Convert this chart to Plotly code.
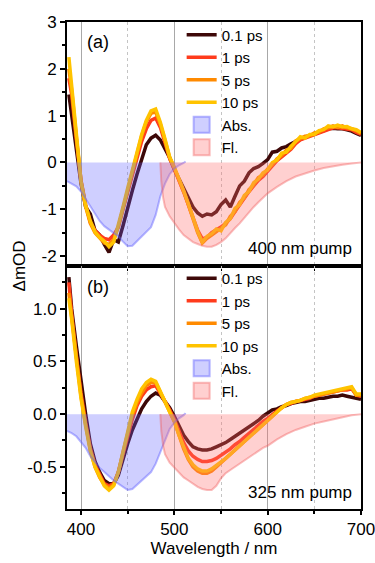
import plotly.graph_objects as go
from plotly.subplots import make_subplots

# ---------------- data ----------------
wl = [387] + list(range(390, 701, 5))

# panel (a): 400 nm pump
a_01ps = [1.45, 1.0, 0.3, -0.45, -0.95, -1.1, -1.45, -1.55,
          -1.75, -1.92, -1.65, -1.7, -1.35, -0.95, -0.6, -0.25,
          0.08, 0.38, 0.52, 0.58, 0.48, 0.3, 0.1, -0.15,
          -0.35, -0.58, -0.78, -0.95, -1.08, -1.15, -1.1, -1.12,
          -1.05, -0.9, -0.8, -0.95, -0.72, -0.5, -0.4, -0.22,
          -0.13, -0.09, -0.02, 0.06, 0.22, 0.24, 0.31, 0.34,
          0.4, 0.45, 0.5, 0.54, 0.57, 0.6, 0.64, 0.68,
          0.72, 0.73, 0.72, 0.72, 0.7, 0.67, 0.62, 0.58]
a_1ps = [1.8, 1.45, 0.5, -0.38, -0.9, -1.28, -1.45, -1.55,
         -1.62, -1.65, -1.55, -1.38, -1.0, -0.62, -0.25, 0.12,
         0.45, 0.72, 0.9, 0.95, 0.75, 0.42, 0.08, -0.14,
         -0.37, -0.63, -0.9, -1.2, -1.45, -1.63, -1.6, -1.5,
         -1.45, -1.38, -1.3, -1.2, -1.05, -0.9, -0.78, -0.62,
         -0.5, -0.38, -0.3, -0.18, -0.08, 0.04, 0.12, 0.2,
         0.28, 0.4, 0.48, 0.52, 0.56, 0.6, 0.64, 0.68,
         0.72, 0.74, 0.74, 0.73, 0.72, 0.7, 0.64, 0.6]
a_5ps = [2.0, 1.55, 0.55, -0.4, -0.95, -1.3, -1.5, -1.62,
         -1.72, -1.75, -1.65, -1.38, -0.98, -0.58, -0.18, 0.2,
         0.57, 0.87, 1.05, 1.08, 0.82, 0.47, 0.1, -0.12,
         -0.35, -0.62, -0.9, -1.22, -1.5, -1.72, -1.62, -1.55,
         -1.48, -1.4, -1.33, -1.15, -1.05, -0.85, -0.76, -0.58,
         -0.48, -0.32, -0.27, -0.14, -0.05, 0.08, 0.15, 0.26,
         0.3, 0.46, 0.5, 0.56, 0.57, 0.63, 0.65, 0.72,
         0.74, 0.78, 0.75, 0.78, 0.74, 0.72, 0.68, 0.62]
a_10ps = [2.25, 1.65, 0.6, -0.4, -0.92, -1.25, -1.48, -1.6,
          -1.68, -1.8, -1.7, -1.35, -0.95, -0.55, -0.15, 0.22,
          0.6, 0.9, 1.1, 1.14, 0.86, 0.5, 0.12, -0.1,
          -0.33, -0.6, -0.88, -1.2, -1.47, -1.7, -1.58, -1.52,
          -1.42, -1.46, -1.28, -1.2, -0.98, -0.9, -0.7, -0.62,
          -0.43, -0.36, -0.22, -0.16, 0.0, 0.05, 0.2, 0.22,
          0.35, 0.44, 0.55, 0.52, 0.6, 0.6, 0.68, 0.7,
          0.78, 0.76, 0.8, 0.76, 0.77, 0.72, 0.7, 0.64]

# panel (b): 325 nm pump
b_01ps = [1.3, 1.0, 0.65, 0.3, 0.0, -0.28, -0.45, -0.55,
          -0.63, -0.66, -0.66, -0.58, -0.42, -0.28, -0.15, -0.05,
          0.05, 0.12, 0.17, 0.2, 0.18, 0.12, 0.06, -0.02,
          -0.12, -0.2, -0.26, -0.31, -0.33, -0.34, -0.34, -0.33,
          -0.31, -0.29, -0.27, -0.24, -0.21, -0.18, -0.15, -0.12,
          -0.09, -0.06, -0.02, 0.01, 0.04, 0.05, 0.07, 0.08,
          0.1, 0.11, 0.12, 0.12, 0.13, 0.14, 0.15, 0.15,
          0.16, 0.17, 0.17, 0.18, 0.17, 0.16, 0.15, 0.14]
b_1ps = [1.25, 0.95, 0.55, 0.2, -0.08, -0.32, -0.48, -0.58,
         -0.66, -0.68, -0.66, -0.55, -0.38, -0.2, -0.05, 0.08,
         0.17, 0.23, 0.26, 0.27, 0.2, 0.12, 0.04, -0.05,
         -0.16, -0.27, -0.35, -0.4, -0.43, -0.45, -0.45, -0.44,
         -0.42, -0.39, -0.36, -0.33, -0.29, -0.26, -0.22, -0.18,
         -0.15, -0.11, -0.07, -0.04, 0.0, 0.03, 0.06, 0.09,
         0.1, 0.12, 0.13, 0.14, 0.15, 0.17, 0.18, 0.19,
         0.2, 0.21, 0.22, 0.23, 0.23, 0.24, 0.18, 0.17]
b_5ps = [1.15, 0.92, 0.52, 0.17, -0.1, -0.34, -0.5, -0.6,
         -0.67, -0.7, -0.67, -0.55, -0.36, -0.17, -0.01, 0.11,
         0.2, 0.27, 0.3, 0.3, 0.21, 0.12, 0.03, -0.07,
         -0.2, -0.33, -0.43, -0.5, -0.54, -0.56, -0.56, -0.54,
         -0.5, -0.46, -0.42, -0.38, -0.34, -0.3, -0.25, -0.21,
         -0.17, -0.13, -0.09, -0.05, -0.01, 0.03, 0.06, 0.09,
         0.11, 0.12, 0.13, 0.15, 0.16, 0.17, 0.18, 0.19,
         0.2, 0.21, 0.22, 0.23, 0.24, 0.25, 0.18, 0.18]
b_10ps = [1.1, 0.9, 0.5, 0.15, -0.12, -0.35, -0.5, -0.6,
          -0.68, -0.72, -0.68, -0.55, -0.35, -0.15, 0.02, 0.14,
          0.24, 0.3, 0.33, 0.31, 0.22, 0.12, 0.02, -0.07,
          -0.2, -0.32, -0.42, -0.48, -0.52, -0.54, -0.54, -0.52,
          -0.49, -0.46, -0.42, -0.38, -0.34, -0.3, -0.25, -0.21,
          -0.17, -0.13, -0.09, -0.05, -0.01, 0.03, 0.06, 0.09,
          0.11, 0.12, 0.13, 0.15, 0.16, 0.18, 0.19, 0.2,
          0.21, 0.22, 0.23, 0.24, 0.25, 0.26, 0.19, 0.19]

# steady-state absorption (negative) and fluorescence (negative)
abs_wl = [385, 390, 395, 400, 405, 410, 415, 420, 425, 430, 435, 440, 445, 450,
          455, 460, 465, 470, 475, 480, 485, 490, 495, 500, 505, 510, 512]
a_abs = [-0.40, -0.45, -0.51, -0.62, -0.78, -0.95, -1.1, -1.25, -1.36, -1.43,
         -1.5, -1.58, -1.69, -1.79, -1.78, -1.68, -1.6, -1.5, -1.38, -1.12,
         -0.72, -0.45, -0.25, -0.13, -0.06, -0.01, 0.02]
b_abs = [-0.16, -0.18, -0.21, -0.26, -0.32, -0.4, -0.46, -0.51, -0.55, -0.59,
         -0.63, -0.66, -0.69, -0.72, -0.71, -0.67, -0.63, -0.59, -0.55, -0.47,
         -0.36, -0.24, -0.14, -0.08, -0.04, -0.01, 0.01]

fl_wl = [485, 486, 488, 490, 495, 500, 505, 510, 515, 520, 525, 530, 535, 540,
         545, 550, 555, 560, 565, 570, 575, 580, 585, 590, 595, 600, 610, 620,
         630, 640, 650, 660, 670, 680, 690, 700]
a_fl = [0, -0.4, -0.75, -0.95, -1.15, -1.3, -1.43, -1.55, -1.63, -1.7, -1.74,
        -1.78, -1.8, -1.8, -1.76, -1.7, -1.62, -1.5, -1.4, -1.3, -1.18, -1.05,
        -0.95, -0.85, -0.75, -0.66, -0.52, -0.4, -0.3, -0.23, -0.17, -0.12,
        -0.08, -0.05, -0.02, 0.0]
b_fl = [0, -0.16, -0.3, -0.38, -0.46, -0.51, -0.55, -0.6, -0.63, -0.66, -0.69,
        -0.71, -0.72, -0.72, -0.68, -0.61, -0.56, -0.53, -0.5, -0.47, -0.44,
        -0.41, -0.38, -0.35, -0.32, -0.3, -0.24, -0.19, -0.15, -0.12, -0.09,
        -0.07, -0.05, -0.03, -0.01, 0.0]

series_names = ["0.1 ps", "1 ps", "5 ps", "10 ps"]
x_tickvals = [400, 500, 600, 700]
a_tickvals = [-2, -1, 0, 1, 2, 3]
a_ticktext = ["-2", "-1", "0", "1", "2", "3"]
b_tickvals = [-0.5, 0.0, 0.5, 1.0]
b_ticktext = ["-0.5", "0.0", "0.5", "1.0"]

# ---------------- style ----------------
FONT = "Arial, Liberation Sans, sans-serif"
colors = ["#3d0808", "#ff3b1c", "#ff8a00", "#ffc300"]
ABS_FILL = "rgba(95,95,255,0.30)"
ABS_LINE = "rgba(95,95,255,0.45)"
FL_FILL = "rgba(255,110,110,0.32)"
FL_LINE = "rgba(240,90,90,0.40)"

fig = make_subplots(rows=2, cols=1, shared_xaxes=True, vertical_spacing=0)

panels = [
    (1, [a_01ps, a_1ps, a_5ps, a_10ps], a_abs, a_fl, "legend"),
    (2, [b_01ps, b_1ps, b_5ps, b_10ps], b_abs, b_fl, "legend2"),
]
for row, curves, absv, flv, leg in panels:
    for name, ys, c in zip(series_names, curves, colors):
        fig.add_trace(go.Scatter(x=wl, y=ys, mode="lines", name=name,
                                 line=dict(color=c, width=3.5),
                                 legend=leg), row=row, col=1)
    fig.add_trace(go.Scatter(x=abs_wl, y=absv, mode="lines", fill="tozeroy",
                             fillcolor=ABS_FILL, line=dict(color=ABS_LINE, width=2),
                             showlegend=False), row=row, col=1)
    fig.add_trace(go.Scatter(x=fl_wl, y=flv, mode="lines", fill="tozeroy",
                             fillcolor=FL_FILL, line=dict(color=FL_LINE, width=2),
                             showlegend=False), row=row, col=1)
    for name, fc, lc in [("Abs.", ABS_FILL, ABS_LINE), ("Fl.", FL_FILL, FL_LINE)]:
        fig.add_trace(go.Scatter(x=[None], y=[None], mode="markers", name=name,
                                 marker=dict(symbol="square", size=16, color=fc,
                                             line=dict(color=lc, width=2)),
                                 legend=leg), row=row, col=1)

axis_common = dict(showline=True, mirror=True, linewidth=2, linecolor="black",
                   automargin=False,
                   tickfont=dict(family=FONT, size=17, color="black"))
xcommon = dict(range=[385, 700], tickmode="array", tickvals=x_tickvals,
               showgrid=True, gridcolor="#a8a8a8", gridwidth=1, zeroline=False,
               ticklabeloverflow="allow",
               minor=dict(tickmode="linear", tick0=400, dtick=50, showgrid=True,
                          gridcolor="#c4c4c4", griddash="dot", gridwidth=1,
                          ticks="outside", ticklen=3, tickcolor="black"),
               **axis_common)
fig.update_xaxes(row=1, col=1, showticklabels=False, ticks="", **xcommon)
fig.update_xaxes(row=2, col=1, ticks="outside", ticklen=4, tickwidth=1.5,
                 tickcolor="black",
                 title=dict(text="Wavelength / nm", font=dict(family=FONT, size=17, color="black"),
                            standoff=0),
                 **xcommon)
fig.update_yaxes(row=1, col=1, range=[-2.2, 3.0], tickmode="array",
                 tickvals=a_tickvals, ticktext=a_ticktext,
                 ticks="outside", ticklen=5, tickwidth=1.5, tickcolor="black",
                 showgrid=False, zeroline=False,
                 minor=dict(tickmode="linear", tick0=0, dtick=0.5, ticks="outside",
                            ticklen=3, tickcolor="black"),
                 **axis_common)
fig.update_yaxes(row=2, col=1, range=[-0.9, 1.41], tickmode="array",
                 tickvals=b_tickvals, ticktext=b_ticktext,
                 ticks="outside", ticklen=5, tickwidth=1.5, tickcolor="black",
                 showgrid=False, zeroline=False,
                 minor=dict(tickmode="linear", tick0=0, dtick=0.25, ticks="outside",
                            ticklen=3, tickcolor="black"),
                 **axis_common)

legend_common = dict(xanchor="left", yanchor="top", bgcolor="rgba(0,0,0,0)",
                     font=dict(family=FONT, size=15, color="black"),
                     tracegroupgap=0, itemwidth=30, traceorder="normal")
fig.update_layout(
    width=375, height=563,
    margin=dict(l=67, r=14, t=22, b=54, autoexpand=False),
    paper_bgcolor="white", plot_bgcolor="white",
    font=dict(family=FONT, size=16, color="black"),
    legend=dict(x=0.39, y=1.007, **legend_common),
    legend2=dict(x=0.39, y=0.507, **legend_common),
    annotations=[
        dict(text="ΔmOD", x=-0.16, y=0.5, xref="paper", yref="paper",
             xanchor="center", yanchor="middle",
             textangle=-90, showarrow=False, font=dict(family=FONT, size=17)),
        dict(text="(a)", x=0.105, y=0.959, xref="paper", yref="paper",
             xanchor="center", yanchor="middle",
             showarrow=False, font=dict(family=FONT, size=18)),
        dict(text="(b)", x=0.105, y=0.456, xref="paper", yref="paper",
             xanchor="center", yanchor="middle",
             showarrow=False, font=dict(family=FONT, size=18)),
        dict(text="400 nm pump", x=0.975, y=0.534, xref="paper", yref="paper",
             xanchor="right", yanchor="middle", showarrow=False,
             font=dict(family=FONT, size=17)),
        dict(text="325 nm pump", x=0.975, y=0.033, xref="paper", yref="paper",
             xanchor="right", yanchor="middle", showarrow=False,
             font=dict(family=FONT, size=17)),
    ],
)

fig.write_html("out.html",
               config={"displayModeBar": False},
               post_script="document.body.style.margin='0px';"
                           "document.body.style.padding='0px';")
